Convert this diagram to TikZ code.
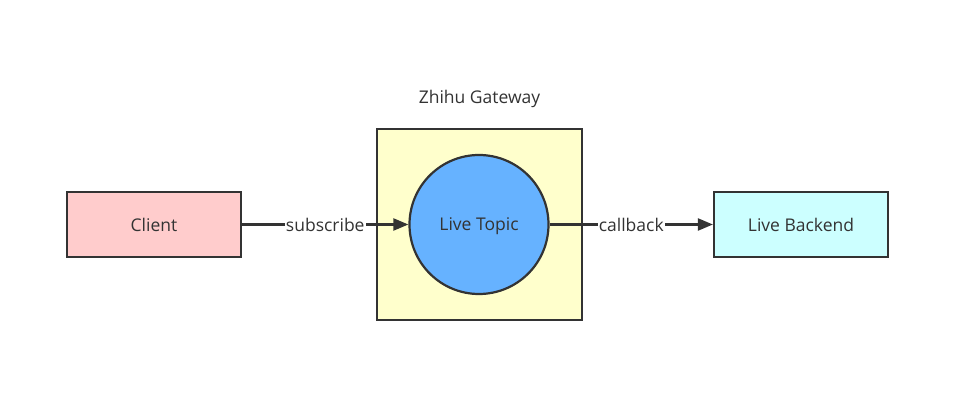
\documentclass[tikz,border=0pt]{standalone}
\usepackage{fontspec}
\setmainfont{Open Sans}
\usetikzlibrary{positioning, arrows.meta}

\definecolor{edgegray}{HTML}{333333}
\definecolor{clientpink}{HTML}{FFCCCC}
\definecolor{gatewayyellow}{HTML}{FFFFCC}
\definecolor{topicblue}{HTML}{66B2FF}
\definecolor{backendcyan}{HTML}{CCFFFF}

\begin{document}
\begin{tikzpicture}[x=1pt, y=-1pt, >={Triangle[length=15pt,width=12pt]},
    font=\fontsize{17.5}{21}\selectfont, text=edgegray,
    box/.style={draw=edgegray, line width=2.2pt, minimum width=174pt, minimum height=65pt},
    link/.style={->, draw=edgegray, line width=2.2pt},
    tag/.style={fill=white, inner sep=1pt}]
    \useasboundingbox (0,0) rectangle (975,406);
    \node[box, fill=gatewayyellow, minimum width=205pt, minimum height=191pt] (gw) at (479.5,224.5) {};
    \node[above=17pt of gw] (gwlabel) {Zhihu Gateway};
    \node[draw=edgegray, line width=2.2pt, circle, fill=topicblue, minimum size=139pt,
          text depth=0pt] (topic) at (479,224.5) {Live Topic};
    \node[box, fill=clientpink] (client) at (154,224.5) {Client};
    \node[box, fill=backendcyan] (backend) at (801,224.5) {Live Backend};
    \draw[link] (client) -- node[tag]{subscribe} (topic);
    \draw[link] (topic) -- node[tag]{callback} (backend);
\end{tikzpicture}
\end{document}
